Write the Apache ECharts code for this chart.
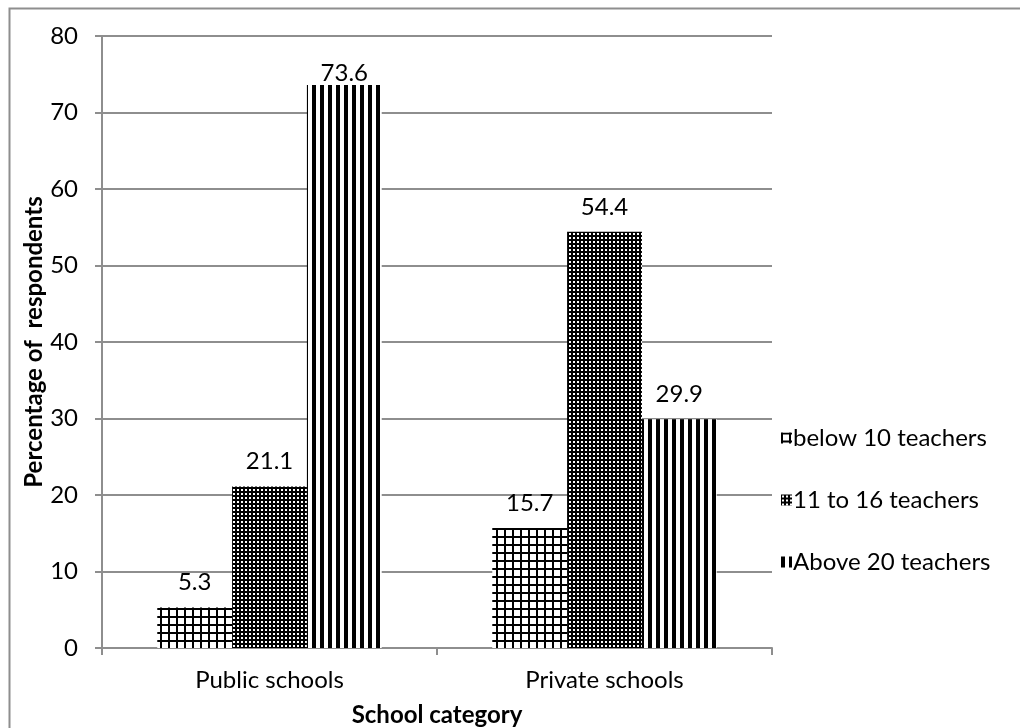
<!DOCTYPE html>
<html>
<head>
<meta charset="utf-8">
<script src="https://cdn.jsdelivr.net/npm/echarts@6/dist/echarts.min.js"></script>
<style>
  html, body { margin: 0; padding: 0; background: #fff; }
  #chart { width: 1020px; height: 728px; }
</style>
</head>
<body>
<div id="chart"></div>
<script>
// categories on the x axis
var categories = ['Public schools', 'Private schools'];
// series names
var seriesNames = ['below 10 teachers', '11 to 16 teachers', 'Above 20 teachers'];
// values per series (public, private)
var below10 = [5.3, 15.7];
var from11to16 = [21.1, 54.4];
var above20 = [73.6, 29.9];
// y axis ticks
var yMin = 0, yMax = 80, yStep = 10;

// hatch patterns drawn on small canvases
function makeTile(w, h, draw) {
    var c = document.createElement('canvas');
    c.width = w; c.height = h;
    var ctx = c.getContext('2d');
    draw(ctx);
    return { image: c, repeat: 'repeat' };
}
var gridPattern = makeTile(8, 8, function (ctx) {
    ctx.fillStyle = '#fff'; ctx.fillRect(0, 0, 8, 8);
    ctx.fillStyle = '#000';
    ctx.fillRect(0, 0, 2, 8);
    ctx.fillRect(0, 0, 8, 2);
});
var dotPattern = makeTile(4, 4, function (ctx) {
    ctx.fillStyle = '#000'; ctx.fillRect(0, 0, 4, 4);
    ctx.fillStyle = '#fff'; ctx.fillRect(1, 1, 2, 2);
});
var stripePattern = makeTile(8, 8, function (ctx) {
    ctx.fillStyle = '#fff'; ctx.fillRect(0, 0, 8, 8);
    ctx.fillStyle = '#000'; ctx.fillRect(0, 0, 4, 8);
});

var font = 'Lato, sans-serif';
var fs = 24;
var lineColor = '#8e8e8e';

function makeSeries(name, vals, pattern) {
    return {
        name: name,
        type: 'bar',
        barGap: '0%',
        barCategoryGap: '33%',
        data: vals.map(function (v) {
            // top bar has less room above it
            return v > 70 ? { value: v, label: { distance: 0 } } : v;
        }),
        itemStyle: { color: pattern },
        label: {
            show: true,
            position: 'top',
            distance: 13,
            color: '#000',
            fontSize: fs,
            fontFamily: font
        }
    };
}

var chart = echarts.init(document.getElementById('chart'));
chart.setOption({
    backgroundColor: '#fff',
    animation: false,
    graphic: [{
        type: 'rect',
        shape: { x: 9.5, y: 8.5, width: 1030, height: 740 },
        style: { fill: 'none', stroke: '#8e8e8e', lineWidth: 2 },
        silent: true
    }],
    grid: { left: 102, right: 248, top: 36, bottom: 80, outerBoundsMode: 'none' },
    legend: {
        orient: 'vertical',
        left: 776,
        top: 420,
        itemWidth: 11,
        itemHeight: 11,
        itemGap: 36,
        icon: 'rect',
        textStyle: { color: '#000', fontSize: fs, lineHeight: 26, fontFamily: font, padding: [0, 0, 0, -4] },
        data: seriesNames
    },
    xAxis: {
        type: 'category',
        data: categories,
        name: 'School category',
        nameLocation: 'middle',
        nameGap: 55,
        nameMoveOverlap: false,
        nameTextStyle: { color: '#000', fontSize: fs, fontWeight: 'bold', fontFamily: font },
        axisLine: { lineStyle: { color: lineColor, width: 2 } },
        axisTick: { show: true, length: 7, lineStyle: { color: lineColor, width: 2 } },
        axisLabel: { color: '#000', fontSize: fs, fontFamily: font, margin: 20 }
    },
    yAxis: {
        type: 'value',
        min: yMin,
        max: yMax,
        interval: yStep,
        name: 'Percentage of  respondents',
        nameLocation: 'middle',
        nameGap: 56,
        nameMoveOverlap: false,
        nameTextStyle: { color: '#000', fontSize: fs, fontWeight: 'bold', fontFamily: font },
        axisLine: { show: true, lineStyle: { color: lineColor, width: 2 } },
        axisTick: { show: true, length: 7, lineStyle: { color: lineColor, width: 2 } },
        axisLabel: { color: '#000', fontSize: fs, fontFamily: font, margin: 24 },
        splitLine: { lineStyle: { color: lineColor, width: 2 } }
    },
    series: [
        makeSeries(seriesNames[0], below10, gridPattern),
        makeSeries(seriesNames[1], from11to16, dotPattern),
        makeSeries(seriesNames[2], above20, stripePattern)
    ]
});
</script>
</body>
</html>
